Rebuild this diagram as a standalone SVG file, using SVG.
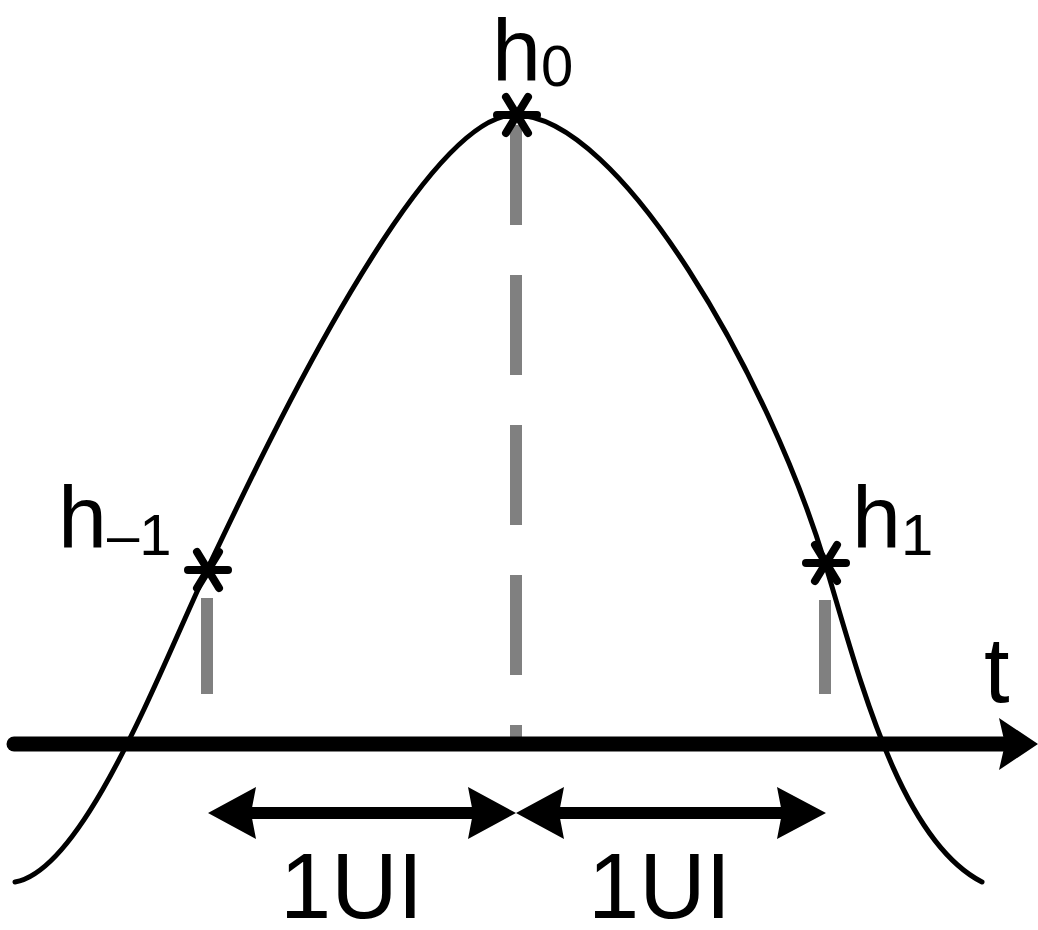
<svg xmlns="http://www.w3.org/2000/svg" width="1038" height="930" viewBox="0 0 1038 930">
<style>
.lbl{font-family:"Liberation Sans",Arial,sans-serif;fill:#000}
.curve{fill:none;stroke:#000;stroke-width:5;stroke-linecap:round}
.guide{stroke:#808080;stroke-width:12;fill:none}
.star{stroke:#000;stroke-width:8;stroke-linecap:round}
.shaft{stroke:#000;fill:none}
.head{fill:#000}
</style>
<defs>
<g id="ast">
<line class="star" x1="-20" y1="0" x2="20" y2="0"/>
<line class="star" x1="-11" y1="-18" x2="11" y2="18"/>
<line class="star" x1="11" y1="-18" x2="-11" y2="18"/>
</g>
</defs>
<rect width="1038" height="930" fill="#fff"/>
<g id="guides">
<line class="guide" x1="516" y1="125" x2="516" y2="744" stroke-dasharray="100 50"/>
<line class="guide" x1="207" y1="598" x2="207" y2="694"/>
<line class="guide" x1="825" y1="600" x2="825" y2="694"/>
</g>
<g id="pulse">
<path class="curve" d="M15,882 C85,870 162,665 207,570 C257,465 420,115 515,115 C620,115 770,380 825,563 C860,680 900,840 982,882"/>
</g>
<g id="connectors">
<g id="t-axis">
<line class="shaft" x1="14" y1="744" x2="1006" y2="744" stroke-width="15" stroke-linecap="round"/>
<polygon class="head" points="999,718 1038,744 999,770 1005,744"/>
</g>
<g id="ui-left">
<line class="shaft" x1="240" y1="813" x2="485" y2="813" stroke-width="12"/>
<polygon class="head" points="208,813 256,787 251,813 256,839"/>
<polygon class="head" points="516,813 468,787 473,813 468,839"/>
</g>
<g id="ui-right">
<line class="shaft" x1="546" y1="813" x2="795" y2="813" stroke-width="12"/>
<polygon class="head" points="516,813 564,787 559,813 564,839"/>
<polygon class="head" points="826,813 777,787 782,813 777,839"/>
</g>
</g>
<g id="h0">
<use href="#ast" x="517" y="115"/>
<text class="lbl" x="492" y="80" font-size="88">h<tspan font-size="58" dy="6">0</tspan></text>
</g>
<g id="h-1">
<use href="#ast" x="208" y="570"/>
<text class="lbl" x="58" y="547" font-size="88">h<tspan font-size="58" dy="8">–1</tspan></text>
</g>
<g id="h1">
<use href="#ast" x="826" y="563"/>
<text class="lbl" x="852" y="547" font-size="88">h<tspan font-size="58" dy="8">1</tspan></text>
</g>
<g id="t">
<text class="lbl" x="984" y="702" font-size="92">t</text>
</g>
<g id="ui1">
<text class="lbl" x="280" y="918" font-size="92">1UI</text>
</g>
<g id="ui2">
<text class="lbl" x="588" y="918" font-size="92">1UI</text>
</g>
</svg>
